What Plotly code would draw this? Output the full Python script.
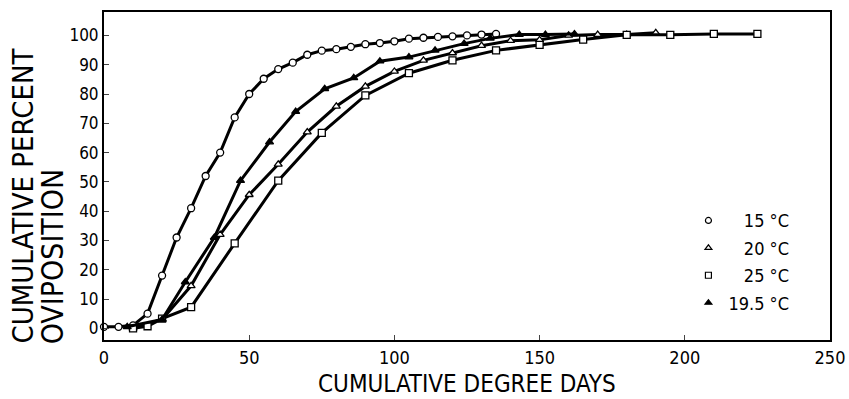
import plotly.graph_objects as go

# ---- data ----
x15 = [0, 5, 10, 15, 20, 25, 30, 35, 40, 45, 50, 55, 60, 65, 70, 75, 80, 85, 90, 95,
       100, 105, 110, 115, 120, 125, 130, 135]
y15 = [0.5, 0.5, 1, 5, 18, 31, 41, 52, 60, 72, 80, 85.2, 88.5, 90.7, 93.4, 94.8, 95.3, 96.1, 97, 97.4,
       98, 98.9, 99.2, 99.5, 99.7, 100, 100.3, 100.5]

x20 = [10, 20, 30, 40, 50, 60, 70, 80, 90, 100, 110, 120, 130, 140, 150, 160, 170, 180, 190]
y20 = [0, 3, 14.5, 32, 45.6, 56, 67, 75.8, 82.6, 87.7, 91.5, 94, 96.5, 98.2, 98.5, 100, 100.3, 100.3, 100.9]

x25 = [10, 15, 20, 30, 45, 60, 75, 90, 105, 120, 135, 150, 165, 180, 195, 210, 225]
y25 = [0, 0.7, 3.3, 7.2, 29, 50.4, 66.7, 79.5, 87.1, 91.5, 94.9, 96.8, 98.6, 100.2, 100.2, 100.5, 100.5]

x195 = [8, 20, 28, 38, 47, 57, 66, 76, 86, 95, 105, 114, 124, 133, 143, 152, 162]
y195 = [0.5, 3, 15.8, 31, 50.4, 63.6, 74, 81.8, 85.5, 91.2, 92.6, 94.9, 97.2, 99, 100.3, 100.3, 100.5]

labels = ["15 °C", "20 °C", "25 °C", "19.5 °C"]
pads = ["\u00a0\u00a0\u00a0", "\u00a0\u00a0\u00a0", "\u00a0\u00a0\u00a0", ""]

xticks = [0, 50, 100, 150, 200, 250]
yticks = [0, 10, 20, 30, 40, 50, 60, 70, 80, 90, 100]

FONT = "Liberation Sans Narrow, DejaVu Sans Condensed, Arial Narrow, sans-serif"

series = [
    (x15, y15, "circle", "white"),
    (x20, y20, "triangle-up", "white"),
    (x25, y25, "square", "white"),
    (x195, y195, "triangle-up", "black"),
]

fig = go.Figure()
for (xs, ys, sym, fill) in series:
    fig.add_trace(go.Scatter(
        x=xs, y=ys, mode="lines+markers", showlegend=False,
        line=dict(color="black", width=3),
        marker=dict(symbol=sym, size=7, color=fill, line=dict(color="black", width=1.3)),
        cliponaxis=False,
    ))

for i, (xs, ys, sym, fill) in enumerate(series):
    fig.add_trace(go.Scatter(
        x=[None], y=[None], mode="markers", name=pads[i] + labels[i],
        legendgroup=f"g{i}",
        marker=dict(symbol=sym, size=6, color=fill, line=dict(color="black", width=1.2)),
    ))

fig.update_layout(
    width=849, height=399,
    margin=dict(l=104, r=19, t=12, b=59, autoexpand=False),
    paper_bgcolor="white", plot_bgcolor="white",
    font=dict(family=FONT, color="black", size=17),
    legend=dict(x=0.805, y=0.42, xanchor="left", yanchor="top",
                bgcolor="rgba(0,0,0,0)", traceorder="grouped", tracegroupgap=1,
                font=dict(size=18)),
    xaxis=dict(range=[0, 250], tickvals=xticks, ticks="inside", ticklen=5,
               showline=True, linecolor="black", linewidth=2, mirror=True, automargin=False,
               showgrid=False, zeroline=False, tickfont=dict(size=18)),
    yaxis=dict(range=[-4, 108], tickvals=yticks, ticks="inside", ticklen=5,
               showline=True, linecolor="black", linewidth=2, mirror=True, automargin=False,
               showgrid=False, zeroline=False, tickfont=dict(size=17)),
    annotations=[
        dict(text="CUMULATIVE DEGREE DAYS", xref="paper", yref="paper", x=0.5, y=-0.135,
             xanchor="center", yanchor="middle", showarrow=False, font=dict(size=24)),
        dict(text="CUMULATIVE PERCENT", xref="paper", yref="paper", x=-0.112, y=-0.018,
             xanchor="center", yanchor="bottom", textangle=-90, showarrow=False, font=dict(size=29)),
        dict(text="OVIPOSITION", xref="paper", yref="paper", x=-0.071, y=-0.018,
             xanchor="center", yanchor="bottom", textangle=-90, showarrow=False, font=dict(size=30)),
    ],
)

fig.write_html("out.html")
